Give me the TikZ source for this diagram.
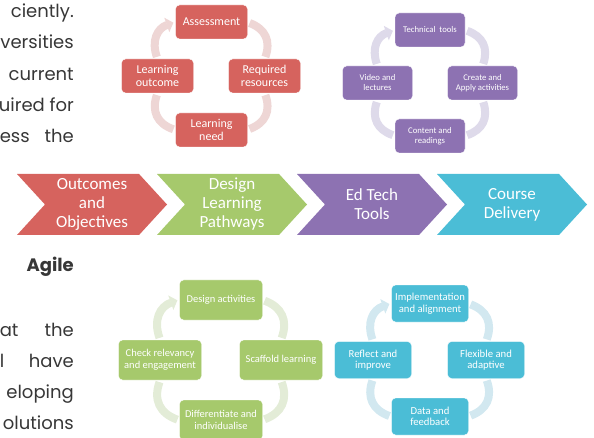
\documentclass[tikz,border=0pt]{standalone}
\usepackage{fontspec}
\setmainfont{Carlito}
\newfontfamily\gothic{Poppins}
\usepackage{tikz}
\usetikzlibrary{arrows.meta,shapes.symbols,backgrounds}

\definecolor{outred}{RGB}{214,99,94}
\definecolor{redring}{RGB}{238,214,213}
\definecolor{techpurple}{RGB}{141,114,178}
\definecolor{purpring}{RGB}{222,218,234}
\definecolor{desgreen}{RGB}{166,201,108}
\definecolor{greenring}{RGB}{227,236,215}
\definecolor{delcyan}{RGB}{75,189,214}
\definecolor{cyanring}{RGB}{210,232,240}
\definecolor{paragray}{RGB}{55,55,55}

\begin{document}
\begin{tikzpicture}[x=1pt, y=1pt, node distance=140pt]
\tikzstyle{para}=[anchor=base east, inner sep=0pt, text=paragray, font=\gothic\fontsize{18}{20}\selectfont]
\tikzstyle{chev}=[signal, signal from=west, signal to=east, signal pointer angle=95, minimum width=150pt, minimum height=61pt, inner sep=0pt, text=white, align=center, font=\fontsize{17}{19}\selectfont]
\tikzstyle{cbox}=[rectangle, rounded corners=4pt, draw=white, thin, text=white, align=center, inner sep=1pt]
\tikzstyle{redbox}=[cbox, fill=outred, minimum width=72pt, minimum height=34pt, font=\fontsize{12}{12.5}\selectfont]
\tikzstyle{purpbox}=[cbox, fill=techpurple, minimum width=70pt, minimum height=34pt, font=\fontsize{8.7}{10}\selectfont]
\tikzstyle{greenbox}=[cbox, fill=desgreen, minimum width=83pt, minimum height=40pt, font=\fontsize{10.5}{11.5}\selectfont]
\tikzstyle{cyanbox}=[cbox, fill=delcyan, minimum width=77pt, minimum height=37pt, font=\fontsize{10.7}{11.5}\selectfont]
\tikzstyle{ring}=[line width=8pt, shorten <=2pt, shorten >=2pt, looseness=1.2]
\tikzstyle{ringtip}=[ring, -{Triangle[length=7pt,width=15pt]}]

  \useasboundingbox (0,0) rectangle (594,-438);

  % text of the page, cut at the left
  \node[para] (p1) at (74,-18)  {ciently.};
  \node[para] (p2) at (74,-49)  {versities};
  \node[para] (p3) at (74,-81)  {current};
  \node[para] (p4) at (74,-112) {uired for};
  \node[para] (p5) at (74,-143) {\hbox to 74pt{ess\hfill the}};
  \node[para, font=\gothic\bfseries\fontsize{18}{20}\selectfont] (agile) at (74,-272) {Agile};
  \node[para] (p6) at (74,-336) {\hbox to 74pt{at\hfill the}};
  \node[para] (p7) at (74,-367) {\hbox to 74pt{l\hfill have}};
  \node[para] (p8) at (74,-398) {eloping};
  \node[para] (p9) at (74,-429) {olutions};

  % process row
  \node[chev, fill=outred] (outc) at (92,-204.5) {Outcomes\\and\\Objectives};
  \node[chev, fill=desgreen] (design) [right of=outc] {Design\\Learning\\Pathways};
  \node[chev, fill=techpurple] (edtech) [right of=design] {Ed Tech\\Tools};
  \node[chev, fill=delcyan] (course) [right of=edtech] {Course\\Delivery};

  % outcomes cycle
  \coordinate (redc) at (211.5,-76);
  \node[redbox, node distance=54pt] (assess) [above of=redc] {Assessment};
  \node[redbox, node distance=54pt] (need) [below of=redc] {Learning\\need};
  \node[redbox, node distance=54pt] (lout) [left of=redc] {Learning\\outcome};
  \node[redbox, node distance=53pt] (reqres) [right of=redc] {Required\\resources};

  \draw[ringtip, redring] (lout) to[bend left=45] (assess);
  \draw[ring, redring] (assess) to[bend left=45] (reqres);
  \draw[ring, redring] (reqres) to[bend left=45] (need);
  \draw[ring, redring] (need) to[bend left=45] (lout);

  % ed tech cycle
  \coordinate (purpc) at (430,-83);
  \node[purpbox, node distance=53pt] (techt) [above of=purpc] {Technical\ \ tools};
  \node[purpbox, node distance=53pt] (content) [below of=purpc] {Content and\\readings};
  \node[purpbox, node distance=52.5pt] (video) [left of=purpc] {Video and\\lectures};
  \node[purpbox, node distance=52.5pt] (create) [right of=purpc] {Create and\\Apply activities};

  \draw[ringtip, purpring] (video) to[bend left=45] (techt);
  \draw[ring, purpring] (techt) to[bend left=45] (create);
  \draw[ring, purpring] (create) to[bend left=45] (content);
  \draw[ring, purpring] (content) to[bend left=45] (video);

  % design cycle
  \coordinate (greenc) at (221,-360);
  \node[greenbox, node distance=60pt] (desact) [above of=greenc] {Design activities};
  \node[greenbox, node distance=60pt] (diff) [below of=greenc] {Differentiate and\\individualise};
  \node[greenbox, node distance=61pt] (check) [left of=greenc] {Check relevancy\\and engagement};
  \node[greenbox, node distance=60pt] (scaff) [right of=greenc] {Scaffold learning};

  \draw[ringtip, greenring] (check) to[bend left=45] (desact);
  \draw[ring, greenring] (desact) to[bend left=45] (scaff);
  \draw[ring, greenring] (scaff) to[bend left=45] (diff);
  \draw[ring, greenring] (diff) to[bend left=45] (check);

  % delivery cycle
  \coordinate (cyanc) at (430,-360);
  \node[cyanbox, node distance=56.5pt] (impl) [above of=cyanc] {Implementation\\and alignment};
  \node[cyanbox, node distance=56.5pt] (datafb) [below of=cyanc] {Data and\\feedback};
  \node[cyanbox, node distance=57pt] (reflect) [left of=cyanc] {Reflect and\\improve};
  \node[cyanbox, node distance=56pt] (flex) [right of=cyanc] {Flexible and\\adaptive};

  \draw[ringtip, cyanring] (reflect) to[bend left=45] (impl);
  \draw[ring, cyanring] (impl) to[bend left=45] (flex);
  \draw[ring, cyanring] (flex) to[bend left=45] (datafb);
  \draw[ring, cyanring] (datafb) to[bend left=45] (reflect);

\end{tikzpicture}
\end{document}
